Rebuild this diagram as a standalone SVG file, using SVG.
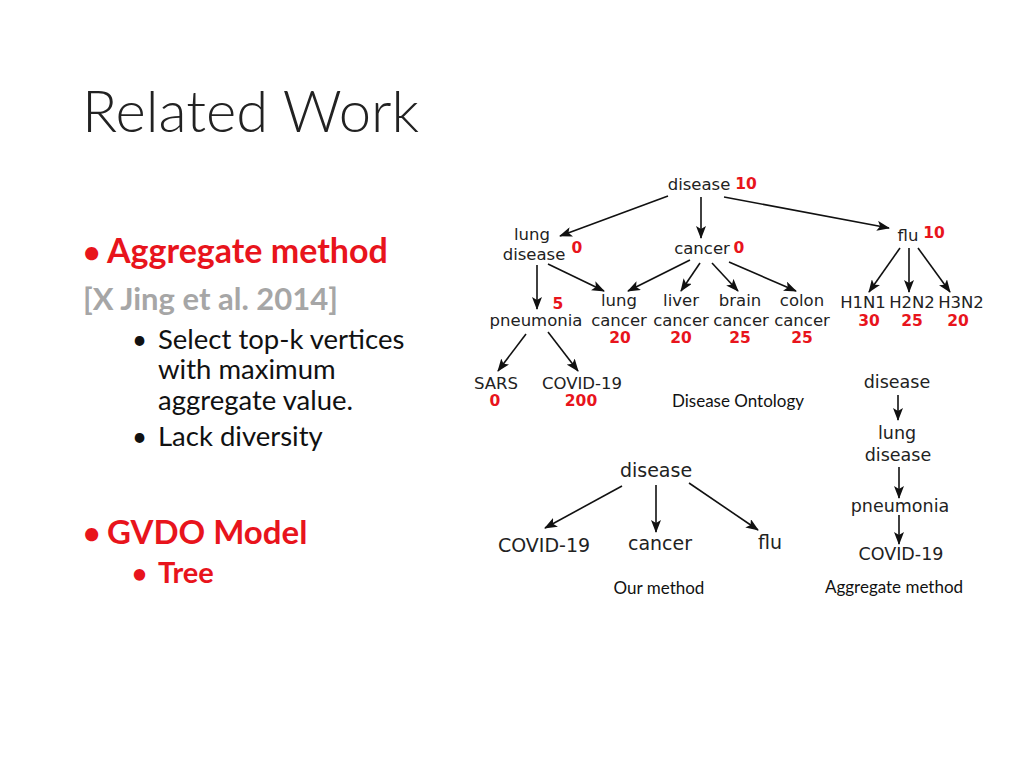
<svg xmlns="http://www.w3.org/2000/svg" width="1024" height="768" viewBox="0 0 1024 768">
<style>
.t{font-family:"DejaVu Sans",Verdana,sans-serif;font-size:16.5px;fill:#222;text-anchor:middle}
.b{font-size:19px}
.a{font-size:17.5px}
.n{font-family:"DejaVu Sans",Verdana,sans-serif;font-size:15.5px;font-weight:bold;fill:#e8141c;text-anchor:middle}
.c{font-family:Lato,"Open Sans",sans-serif;font-size:17px;fill:#111;text-anchor:middle}
.s{font-family:Lato,"Open Sans",sans-serif;fill:#111}
.l{font-size:27.5px}
.r{fill:#e8141c;font-weight:bold}
.e{stroke:#111;stroke-width:1.6;fill:none;marker-end:url(#ah)}
</style>
<defs>
<marker id="ah" markerUnits="userSpaceOnUse" markerWidth="13" markerHeight="10" refX="12" refY="5" orient="auto">
<path d="M0,0 L13,5 L0,10 L3,5 z" fill="#111"/>
</marker>
</defs>
<rect width="1024" height="768" fill="#fff"/>
<g id="slide-text">
<text x="82" y="132" class="s" style="font-size:58px;font-weight:300;fill:#222">Related Work</text>
<text x="83" y="263" class="s r" style="font-size:30px">•</text>
<text x="107" y="263" class="s r" style="font-size:34px">Aggregate method</text>
<text x="83" y="310" class="s" style="font-size:31px;font-weight:bold;fill:#a6a6a6">[X Jing et al. 2014]</text>
<text x="132" y="349" class="s" style="font-size:26px">•</text>
<text x="158" y="349" class="s l">Select top-k vertices</text>
<text x="158" y="379" class="s l">with maximum</text>
<text x="158" y="410" class="s l">aggregate value.</text>
<text x="132" y="446" class="s" style="font-size:26px">•</text>
<text x="158" y="446" class="s l">Lack diversity</text>
<text x="83" y="544" class="s r" style="font-size:30px">•</text>
<text x="107" y="544" class="s r" style="font-size:33px">GVDO Model</text>
<text x="132" y="583" class="s r" style="font-size:26px">•</text>
<text x="158" y="583" class="s r" style="font-size:29px">Tree</text>
</g>
<g id="connectors">
<line class="e" x1="668" y1="196" x2="560" y2="236"/>
<line class="e" x1="701" y1="197" x2="701" y2="238"/>
<line class="e" x1="724" y1="197" x2="889" y2="228"/>
<line class="e" x1="537" y1="265" x2="537" y2="309"/>
<line class="e" x1="548" y1="264" x2="604" y2="291"/>
<line class="e" x1="690" y1="260" x2="628" y2="291"/>
<line class="e" x1="700" y1="263" x2="681" y2="291"/>
<line class="e" x1="712" y1="263" x2="738" y2="291"/>
<line class="e" x1="729" y1="262" x2="796" y2="291"/>
<line class="e" x1="900" y1="248" x2="869" y2="292"/>
<line class="e" x1="909" y1="248" x2="909" y2="292"/>
<line class="e" x1="918" y1="248" x2="950" y2="292"/>
<line class="e" x1="526" y1="334" x2="498" y2="371"/>
<line class="e" x1="548" y1="332" x2="578" y2="371"/>
<line class="e" x1="622" y1="486" x2="545" y2="528"/>
<line class="e" x1="656" y1="485" x2="656" y2="532"/>
<line class="e" x1="689" y1="483" x2="758" y2="530"/>
<line class="e" x1="898" y1="395" x2="898" y2="420"/>
<line class="e" x1="899" y1="467" x2="899" y2="498"/>
<line class="e" x1="899" y1="515" x2="899" y2="544"/>
</g>
<g id="n-disease"><text x="699" y="190" class="t">disease</text><text x="746" y="189" class="n">10</text></g>
<g id="n-lung-disease"><text x="532" y="240" class="t">lung</text><text x="534" y="260" class="t">disease</text><text x="577" y="253" class="n">0</text></g>
<g id="n-cancer"><text x="702" y="254" class="t">cancer</text><text x="739" y="253" class="n">0</text></g>
<g id="n-flu"><text x="908" y="241" class="t">flu</text><text x="934" y="238" class="n">10</text></g>
<g id="n-pneumonia"><text x="558" y="309" class="n">5</text><text x="536" y="326" class="t">pneumonia</text></g>
<g id="n-lung-cancer"><text x="619" y="306" class="t">lung</text><text x="619" y="326" class="t">cancer</text><text x="620" y="343" class="n">20</text></g>
<g id="n-liver-cancer"><text x="681" y="306" class="t">liver</text><text x="681" y="326" class="t">cancer</text><text x="681" y="343" class="n">20</text></g>
<g id="n-brain-cancer"><text x="740" y="306" class="t">brain</text><text x="741" y="326" class="t">cancer</text><text x="740" y="343" class="n">25</text></g>
<g id="n-colon-cancer"><text x="802" y="306" class="t">colon</text><text x="802" y="326" class="t">cancer</text><text x="802" y="343" class="n">25</text></g>
<g id="n-h1n1"><text x="863" y="308" class="t">H1N1</text><text x="869" y="326" class="n">30</text></g>
<g id="n-h2n2"><text x="912" y="308" class="t">H2N2</text><text x="912" y="326" class="n">25</text></g>
<g id="n-h3n2"><text x="961" y="308" class="t">H3N2</text><text x="958" y="326" class="n">20</text></g>
<g id="n-sars"><text x="496" y="389" class="t">SARS</text><text x="495" y="406" class="n">0</text></g>
<g id="n-covid"><text x="582" y="389" class="t">COVID-19</text><text x="581" y="406" class="n">200</text></g>
<text x="738" y="407" class="c">Disease Ontology</text>
<g id="o-disease"><text x="656" y="477" class="t b">disease</text></g>
<g id="o-covid"><text x="544" y="552" class="t b">COVID-19</text></g>
<g id="o-cancer"><text x="660" y="550" class="t b">cancer</text></g>
<g id="o-flu"><text x="770" y="549" class="t b">flu</text></g>
<text x="659" y="594" class="c">Our method</text>
<g id="a-disease"><text x="897" y="388" class="t a">disease</text></g>
<g id="a-lung-disease"><text x="897" y="439" class="t a">lung</text><text x="898" y="461" class="t a">disease</text></g>
<g id="a-pneumonia"><text x="900" y="512" class="t a">pneumonia</text></g>
<g id="a-covid"><text x="901" y="560" class="t a">COVID-19</text></g>
<text x="894" y="593" class="c">Aggregate method</text>
</svg>
